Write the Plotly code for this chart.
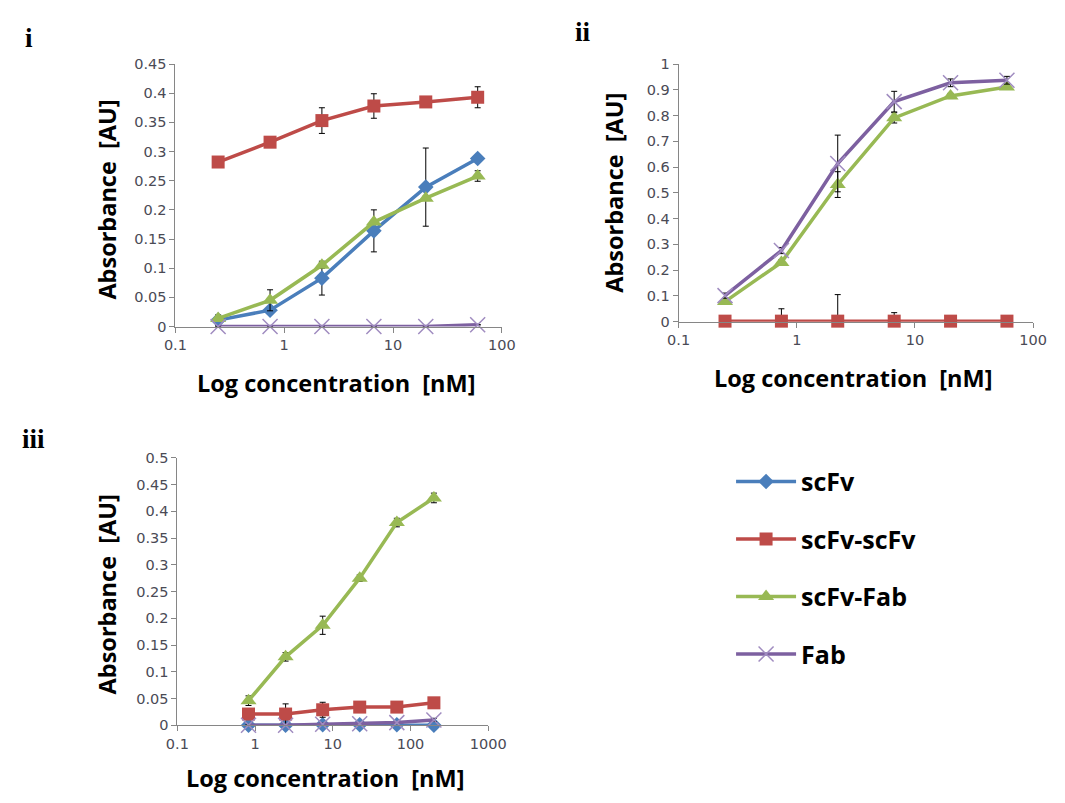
import plotly.graph_objects as go

# ---------------- data ----------------
series_names = ["scFv", "scFv-scFv", "scFv-Fab", "Fab"]

conc_i = [0.247, 0.741, 2.22, 6.67, 20, 60]
conc_ii = [0.247, 0.741, 2.22, 6.67, 20, 60]
conc_iii = [0.823, 2.47, 7.41, 22.2, 66.7, 200]

# panel i
i_scfv = [0.011, 0.028, 0.083, 0.164, 0.239, 0.288]
i_scfv_err = [0.009, 0.004, 0.029, 0.036, 0.067, 0.004]
i_scfv2 = [0.282, 0.316, 0.353, 0.378, 0.385, 0.393]
i_scfv2_err = [0.0, 0.004, 0.022, 0.021, 0.005, 0.018]
i_fab2 = [0.014, 0.045, 0.105, 0.179, 0.220, 0.258]
i_fab2_err = [0.004, 0.018, 0.005, 0.004, 0.004, 0.009]
i_fab = [0.0, 0.0, 0.0, 0.0, 0.0, 0.003]
i_fab_err = [0, 0, 0, 0, 0, 0]

# panel ii
ii_scfv2 = [0.002, 0.002, 0.002, 0.002, 0.002, 0.002]
ii_scfv2_err_plus = [0.0, 0.048, 0.103, 0.033, 0.0, 0.0]
ii_fab2 = [0.078, 0.230, 0.532, 0.791, 0.876, 0.911]
ii_fab2_err = [0.01, 0.01, 0.05, 0.02, 0.01, 0.01]
ii_fab = [0.101, 0.276, 0.614, 0.854, 0.927, 0.937]
ii_fab_err = [0.01, 0.012, 0.11, 0.04, 0.015, 0.015]

# panel iii
iii_scfv = [0.0, 0.0, 0.001, 0.001, 0.001, 0.0]
iii_scfv_err = [0.001, 0.001, 0.001, 0.001, 0.001, 0.001]
iii_scfv2 = [0.021, 0.021, 0.029, 0.034, 0.034, 0.042]
iii_scfv2_err = [0.003, 0.019, 0.014, 0.003, 0.003, 0.003]
iii_fab2 = [0.046, 0.128, 0.187, 0.275, 0.379, 0.425]
iii_fab2_err = [0.009, 0.008, 0.017, 0.006, 0.008, 0.009]
iii_fab = [0.0, 0.0, 0.002, 0.003, 0.005, 0.010]
iii_fab_err = [0.001, 0.001, 0.002, 0.002, 0.002, 0.003]

x_ticks_3 = [0.1, 1, 10, 100]
x_ticks_4 = [0.1, 1, 10, 100, 1000]
x_tick_text_3 = ["0.1", "1", "10", "100"]
x_tick_text_4 = ["0.1", "1", "10", "100", "1000"]

# ---------------- styles ----------------
colors = {"scFv": "#4A7EBB", "scFv-scFv": "#BE4B48", "scFv-Fab": "#98B954", "Fab": "#7D60A0"}
symbols = {"scFv": "diamond", "scFv-scFv": "square", "scFv-Fab": "triangle-up", "Fab": "x-thin"}
sizes = {"scFv": 12, "scFv-scFv": 13, "scFv-Fab": 14, "Fab": 15}

# page body has an 8px margin: figure is sized so the page is 1065x803
PAGE_W, PAGE_H, BODY_M = 1065, 803, 8
W, H = PAGE_W - 2 * BODY_M, PAGE_H - 2 * BODY_M


def fx(px):
    return (px - BODY_M) / W


def fy(py):
    return 1 - (py - BODY_M) / H


fig = go.Figure()


def add(name, x, y, err, xa, ya, show, err_minus=None):
    c = colors[name]
    marker = dict(symbol=symbols[name], size=sizes[name], color=c)
    if name == "Fab":
        marker["line"] = dict(color="#A08CC0", width=1.5)
    ed = dict(type="data", array=err, color="black", thickness=1, width=3, visible=True)
    if err_minus is not None:
        ed["symmetric"] = False
        ed["arrayminus"] = err_minus
    fig.add_trace(go.Scatter(
        x=x, y=y, name=name, mode="lines+markers",
        line=dict(color=c, width=3.5), marker=marker,
        error_y=ed, xaxis=xa, yaxis=ya, showlegend=show,
        legendgroup=name, cliponaxis=False,
    ))


# panel i
add("scFv", conc_i, i_scfv, i_scfv_err, "x", "y", True)
add("scFv-scFv", conc_i, i_scfv2, i_scfv2_err, "x", "y", True)
add("scFv-Fab", conc_i, i_fab2, i_fab2_err, "x", "y", True)
add("Fab", conc_i, i_fab, i_fab_err, "x", "y", True)
# panel ii
add("scFv-scFv", conc_ii, ii_scfv2, ii_scfv2_err_plus, "x2", "y2", False, [0] * 6)
add("scFv-Fab", conc_ii, ii_fab2, ii_fab2_err, "x2", "y2", False)
add("Fab", conc_ii, ii_fab, ii_fab_err, "x2", "y2", False)
# panel iii
add("scFv", conc_iii, iii_scfv, iii_scfv_err, "x3", "y3", False)
add("scFv-Fab", conc_iii, iii_fab2, iii_fab2_err, "x3", "y3", False)
add("scFv-scFv", conc_iii, iii_scfv2, iii_scfv2_err, "x3", "y3", False)
add("Fab", conc_iii, iii_fab, iii_fab_err, "x3", "y3", False)

tickfont = dict(family="DejaVu Sans", size=14.5, color="#4a4a55")
axis_line = dict(showline=True, linecolor="#868686", linewidth=1, showgrid=False,
                 zeroline=False, ticks="outside", ticklen=5, tickcolor="#868686",
                 tickfont=tickfont)


def xdom(a, b):
    return [fx(a), fx(b)]


def ydom(top, bottom):
    return [fy(bottom), fy(top)]


fig.update_layout(
    width=W, height=H,
    margin=dict(l=0, r=0, t=0, b=0),
    paper_bgcolor="white", plot_bgcolor="white",
    xaxis=dict(type="log", range=[-1, 2], domain=xdom(168, 504), anchor="y",
               tickvals=x_ticks_3, ticktext=x_tick_text_3, **axis_line),
    yaxis=dict(range=[0, 0.45], dtick=0.05, domain=ydom(57, 325), anchor="x", **axis_line),
    xaxis2=dict(type="log", range=[-1, 2], domain=xdom(686, 1051), anchor="y2",
                tickvals=x_ticks_3, ticktext=x_tick_text_3, **axis_line),
    yaxis2=dict(range=[0, 1], dtick=0.1, domain=ydom(57, 320), anchor="x2", **axis_line),
    xaxis3=dict(type="log", range=[-1, 3], domain=xdom(170, 490), anchor="y3",
                tickvals=x_ticks_4, ticktext=x_tick_text_4, **axis_line),
    yaxis3=dict(range=[0, 0.5], dtick=0.05, domain=ydom(459, 732), anchor="x3", **axis_line),
    legend=dict(x=fx(740), y=fy(460), xanchor="left", yanchor="top",
                font=dict(family="Open Sans", size=25, color="black", weight="bold"),
                tracegroupgap=22, itemwidth=60, bgcolor="rgba(0,0,0,0)"),
)

title_font = dict(family="Open Sans", size=23.5, color="black", weight="bold")
for (x, y) in [(334, 383), (866, 378), (322, 786)]:
    fig.add_annotation(text="Log concentration  [nM]", x=fx(x), y=fy(y), xref="paper", yref="paper",
                       showarrow=False, font=title_font, xanchor="center", yanchor="middle")
for (x, y) in [(98, 195), (620, 188), (98, 598)]:
    fig.add_annotation(text="Absorbance  [AU]", x=fx(x), y=fy(y), xref="paper", yref="paper",
                       showarrow=False, font=title_font, textangle=-90,
                       xanchor="center", yanchor="middle")

panel_font = dict(family="Liberation Serif", size=27, color="black", weight="bold")
for (t, x, y) in [("i", 17, 30), ("ii", 588, 24), ("iii", 22, 440)]:
    fig.add_annotation(text=t, x=fx(x), y=fy(y), xref="paper", yref="paper",
                       showarrow=False, font=panel_font, xanchor="center", yanchor="middle")

fig.write_html("out.html", config={"displayModeBar": False})
